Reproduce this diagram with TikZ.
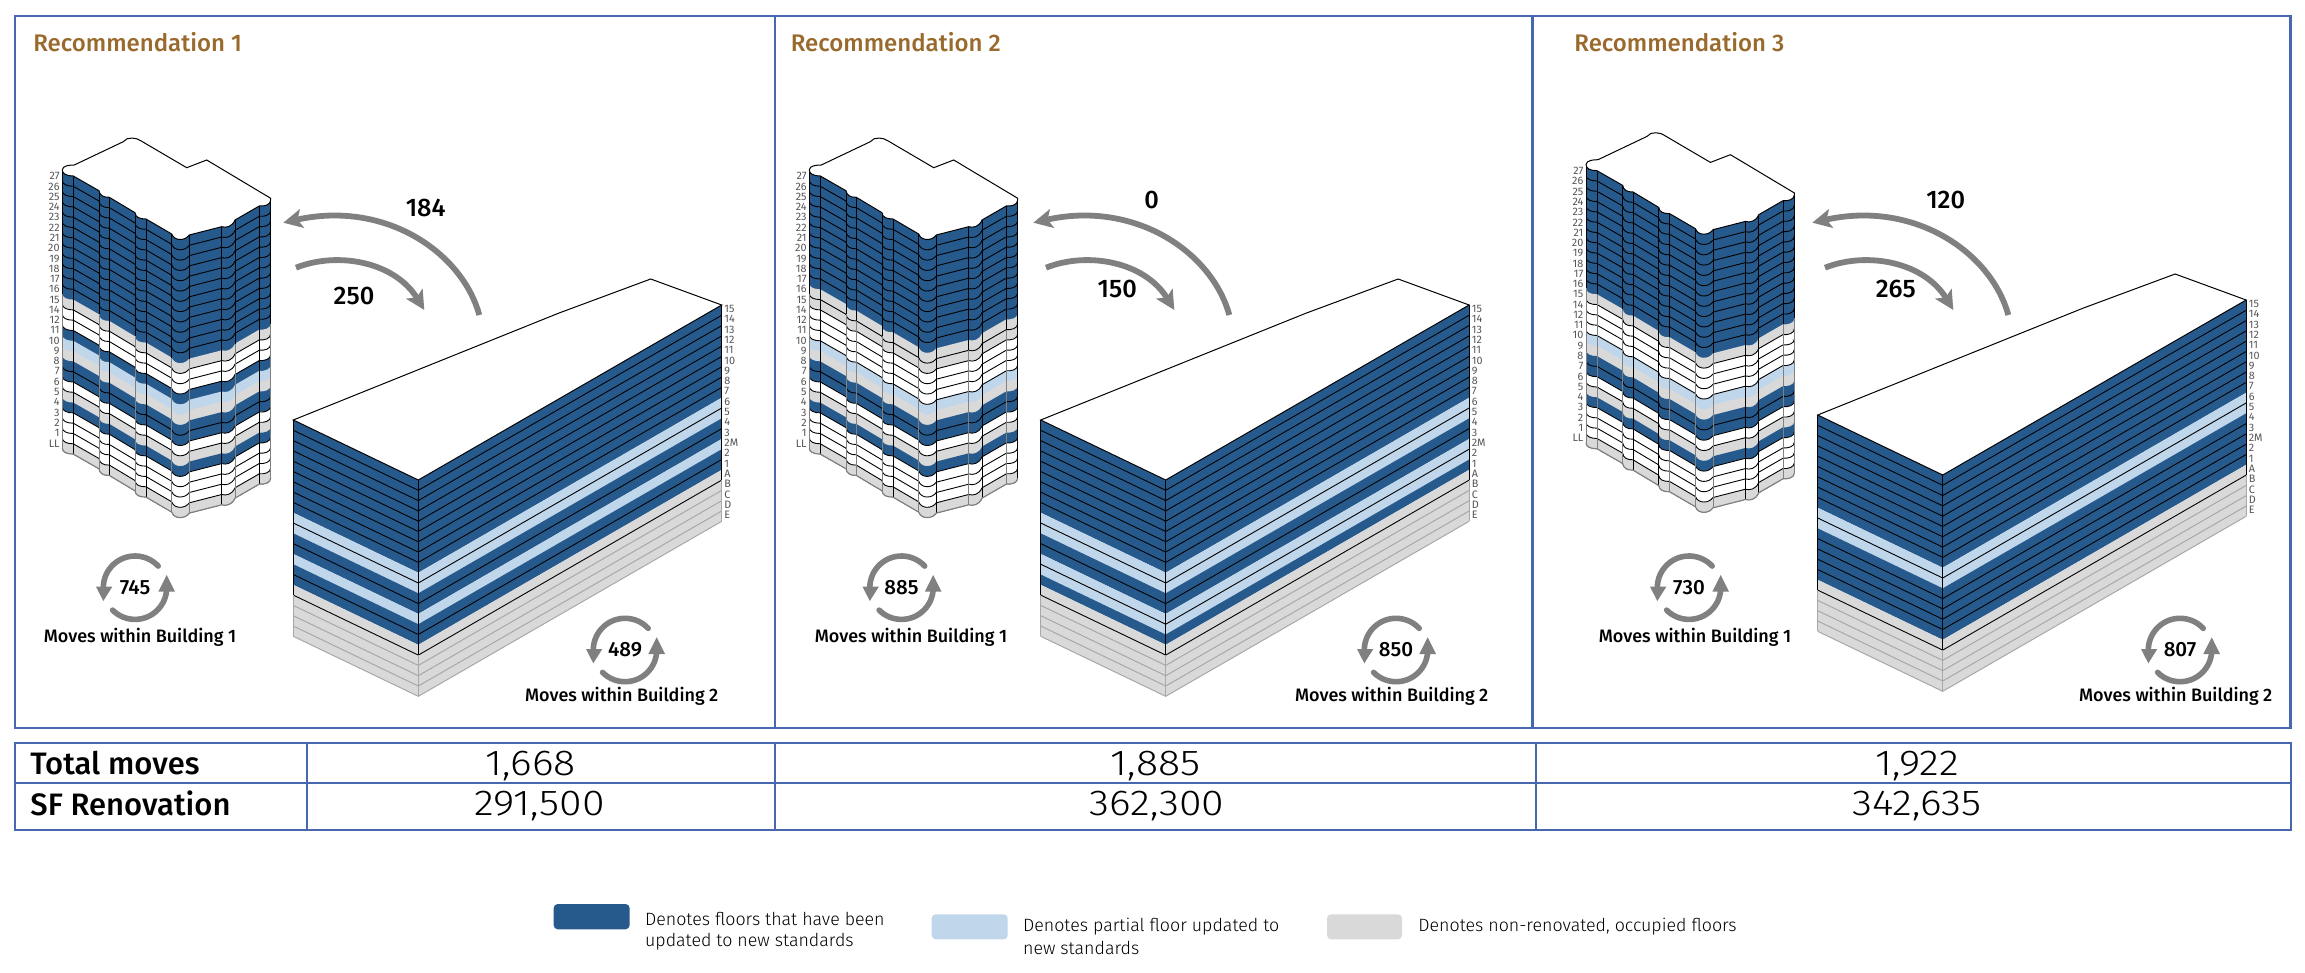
\documentclass[tikz,border=0pt]{standalone}
\usepackage{fontspec}
\setmainfont{Fira Sans}
\newfontfamily\medf{Fira Sans Medium}
\newfontfamily\lightf{Fira Sans Light}
\newfontfamily\valf[FakeStretch=1.14]{Fira Sans Light}
\usetikzlibrary{arrows.meta}
\definecolor{cD}{HTML}{26598C}
\definecolor{cL}{HTML}{BFD6EB}
\definecolor{cG}{HTML}{D9D9D9}
\definecolor{cW}{HTML}{FFFFFF}
\definecolor{vk}{HTML}{000000}
\definecolor{vg}{HTML}{808080}
\definecolor{frame}{HTML}{4767AE}
\definecolor{title}{HTML}{9A6A2C}
\definecolor{arrowg}{HTML}{808080}
\definecolor{lblg}{HTML}{555555}
\definecolor{gline}{HTML}{A8A8A8}
\tikzset{
 floorln/.style={line width=0.45pt,black},
 frameln/.style={draw=frame,line width=1.1pt},
 tableln/.style={draw=frame,line width=1pt},
 flow/.style={draw=arrowg,line width=2.9pt,-{Stealth[length=9.5pt,width=9.5pt,inset=2.2pt]}},
 circarc/.style={draw=arrowg,line width=2.8pt,line cap=round},
 numlbl/.style={font=\medf\fontsize{12.7}{14}\selectfont,inner sep=0pt},
 circnum/.style={font=\medf\fontsize{10.3}{12}\selectfont,inner sep=0pt},
 movelbl/.style={font=\medf\fontsize{9}{12}\selectfont,inner sep=0pt},
 florlbl/.style={font=\fontsize{5.4}{6}\selectfont,text=lblg,inner sep=0pt},
 titlelbl/.style={font=\medf\fontsize{12}{14}\selectfont,text=title,inner sep=0pt,anchor=west},
 rowlbl/.style={font=\medf\fontsize{15.5}{18}\selectfont,inner sep=0pt,anchor=west},
 vallbl/.style={font=\valf\fontsize{18}{20}\selectfont,inner sep=0pt},
 leglbl/.style={font=\lightf\fontsize{8.9}{11}\selectfont,inner sep=0pt,anchor=west},
}
\def\wh{cW}
\newcommand\tprof{(62.3,170) .. controls (62.3,174) and (67,176) .. (73.3,176)
 -- (99,190.7) .. controls (99.5,195) and (103,197.5) .. (109.3,197.3)
 -- (135,212.7) .. controls (135.5,217) and (139,219) .. (146,219)
 -- (171.7,234) .. controls (173,238) and (177,239.5) .. (180,239.5)
 .. controls (184,239.5) and (187,238) .. (189.3,235)
 -- (221.7,226.7) .. controls (226,228) and (232,227) .. (235,220)
 -- (259.3,206) .. controls (264,206.5) and (270.7,205) .. (270.7,200)}
% dx, dy, floors (27), vertical list
\newcommand\tower[4]{%
\begin{scope}[shift={(#1,#2)}]
 \begin{scope}
  \clip[shift={(0,278.1)}] \tprof -- (270.7,-400) -- (62.3,-400) -- cycle;
  \foreach[count=\k from 0] \cl in {#3} {
   \fill[\cl,shift={(0,\k*10.3)}] \tprof -- (270.7,900) -- (62.3,900) -- cycle;
  }
  \gdef\pv{none}
  \foreach[count=\k from 0] \cl in {#3} {
   \edef\cc{\cl}
   \ifx\cc\pv \draw[floorln,shift={(0,\k*10.3)}] \tprof;
   \else\ifx\cc\wh \draw[floorln,shift={(0,\k*10.3)}] \tprof;
   \else\ifx\pv\wh \draw[floorln,shift={(0,\k*10.3)}] \tprof;
   \fi\fi\fi
   \xdef\pv{\cl}
  }
 \end{scope}
 \foreach \x/\y/\vc in {#4} {
  \draw[line width=0.5pt,vk] (\x,\y) -- (\x,\y+123.6);
  \draw[line width=0.5pt,\vc] (\x,\y+123.6) -- (\x,\y+278.1);
 }
 \draw[line width=0.6pt,vg,shift={(0,278.1)}] \tprof;
 \filldraw[fill=white,draw=black,line width=0.5pt] \tprof
   .. controls (271.5,199) and (271,198.5) .. (270.7,198.3) -- (206.7,160) -- (186.7,167.7) -- (140.7,140.7)
   .. controls (137.5,138) and (127,136) .. (123.3,141.7) -- (74.3,165)
   .. controls (70,165) and (62.3,165.5) .. (62.3,170) -- cycle;
 \foreach \t [count=\k from 0] in {27,26,25,24,23,22,21,20,19,18,17,16,15,14,12,11,10,9,8,7,6,5,4,3,2,1,LL}
   \node[florlbl,anchor=east] (tl\k) at (60,176.3+\k*10.27) {\t};
\end{scope}}
% dx, dy, floors (21)
\newcommand\bigb[3]{%
\begin{scope}[shift={(#1,#2)}]
 \foreach[count=\k from 0] \cl in {#3} {
  \fill[\cl] (293.3,420+\k*10.3) -- (418.3,480+\k*10.3) -- (721.7,305+\k*10.3) -- (721.7,315.3+\k*10.3) -- (418.3,490.3+\k*10.3) -- (293.3,430.3+\k*10.3) -- cycle;
 }
 \gdef\pv{none}
 \foreach[count=\k from 0] \cl in {#3} {
  \edef\cc{\cl}
  \ifx\cc\pv
   \ifnum\k>17\relax
    \draw[line width=0.5pt,gline] (293.3,420+\k*10.3) -- (418.3,480+\k*10.3) -- (721.7,305+\k*10.3);
   \else
    \draw[floorln] (293.3,420+\k*10.3) -- (418.3,480+\k*10.3) -- (721.7,305+\k*10.3);
   \fi
  \fi
  \xdef\pv{\cl}
 }
 \foreach \xa/\ya in {293.3/420,418.3/480,721.7/305} {
  \draw[line width=0.5pt,vk] (\xa,\ya) -- (\xa,\ya+175.1);
  \draw[line width=0.5pt,gline] (\xa,\ya+175.1) -- (\xa,\ya+216.3);
 }
 \draw[line width=0.5pt,gline] (293.3,636.3) -- (418.3,696.3) -- (721.7,521.3);
 \filldraw[fill=white,draw=black,line width=0.5pt] (293.3,420) -- (558.3,313.3) -- (650.7,279) -- (721.7,305) -- (418.3,480) -- cycle;
 \foreach \t [count=\k from 0] in {15,14,13,12,11,10,9,8,7,6,5,4,3,2M,2,1,A,B,C,D,E}
   \node[florlbl,anchor=west] (bl\k) at (724,309+\k*10.3) {\t};
\end{scope}}
\newcommand\flows[1]{%
\begin{scope}[shift={(#1,0)}]
 \draw[flow] (479.3,315) .. controls (462,252) and (385,200) .. (283.3,222.7);
 \draw[flow] (296,267.7) .. controls (338,251) and (395,262) .. (424.3,310);
\end{scope}}
% cx, cy, text
\newcommand\recyc[3]{%
\begin{scope}[shift={(#1,#2)}]
 \draw[circarc] (-43:31.7) arc (-43:-178:31.7);
 \draw[circarc] (135:31.7) arc (135:2:31.7);
 \fill[arrowg] (-39,-1) -- (-22.7,-1) -- (-31.7,13.3) -- cycle;
 \fill[arrowg] (31.7,-12.7) -- (40,4) -- (23.3,4) -- cycle;
 \node[circnum] (cn#3) at (0,0) {#3};
\end{scope}}
\begin{document}
\begin{tikzpicture}[x=0.5pt,y=-0.5pt]
\useasboundingbox (0,0) rectangle (2305,973);
\fill[white] (0,0) rectangle (2305,973);
% towers
\tower{0}{0}{cD,cD,cD,cD,cD,cD,cD,cD,cD,cD,cD,cD,cG,cW,cW,cD,cL,cG,cD,cD,cW,cG,cD,cW,cW,cW,cG}
 {62.3/170/vg,73.3/176/vk,99/190.7/vg,109.3/197.3/vk,135/212.7/vg,146/219/vk,171.7/234/vg,189.3/235/vg,221.7/226.7/vk,235/220/vg,259.3/206/vk,270.7/200/vg}
\tower{747}{0}{cD,cD,cD,cD,cD,cD,cD,cD,cD,cD,cD,cG,cG,cW,cW,cW,cL,cG,cD,cD,cW,cG,cD,cW,cW,cW,cG}
 {62.3/170/vg,73.3/176/vk,99/190.7/vg,109.3/197.3/vg,135/212.7/vg,146/219/vk,171.7/234/vg,189.3/235/vk,221.7/226.7/vg,235/220/vk,259.3/206/vg,270.7/200/vk}
\tower{1523.7}{-5.3}{cD,cD,cD,cD,cD,cD,cD,cD,cD,cD,cD,cD,cG,cW,cW,cW,cL,cG,cD,cD,cW,cG,cD,cW,cW,cW,cG}
 {62.3/170/vg,73.3/176/vg,99/190.7/vg,109.3/197.3/vk,135/212.7/vk,146/219/vg,171.7/234/vg,189.3/235/vg,221.7/226.7/vk,235/220/vk,259.3/206/vg,270.7/200/vg}
% large buildings
\bigb{0}{0}{cD,cD,cD,cD,cD,cD,cD,cD,cD,cL,cL,cD,cD,cL,cD,cD,cG,cG,cG,cG,cG}
\bigb{747.4}{0}{cD,cD,cD,cD,cD,cD,cD,cD,cD,cL,cL,cD,cD,cL,cL,cD,cG,cG,cG,cG,cG}
\bigb{1524.4}{-5}{cD,cD,cD,cD,cD,cD,cD,cD,cD,cL,cL,cD,cD,cD,cD,cD,cG,cG,cG,cG,cG}
% flows
\flows{0}\flows{750}\flows{1529}
\node[numlbl] (n184) at (425.7,208.3) {184};
\node[numlbl] (n250) at (354,296) {250};
\node[numlbl] (n0) at (1151.7,200) {0};
\node[numlbl] (n150) at (1117.3,289) {150};
\node[numlbl] (n120) at (1945.7,200) {120};
\node[numlbl] (n265) at (1895.7,289) {265};
% circular arrows
\recyc{135}{587.7}{745}
\recyc{901.5}{587.7}{885}
\recyc{1689}{587.7}{730}
\recyc{625}{650}{489}
\recyc{1396}{650}{850}
\recyc{2180}{650}{807}
\node[movelbl] (m1) at (140,637.7) {Moves within Building 1};
\node[movelbl] (m2) at (621.7,696) {Moves within Building 2};
\node[movelbl] (m3) at (911,637.7) {Moves within Building 1};
\node[movelbl] (m4) at (1391.7,696) {Moves within Building 2};
\node[movelbl] (m5) at (1695,637.7) {Moves within Building 1};
\node[movelbl] (m6) at (2175.7,696) {Moves within Building 2};
% frames
\draw[frameln] (15,16) rectangle (2290.5,727.7);
\draw[tableln] (774.6,16) -- (774.6,727.7);
\draw[frameln,line width=1.7pt] (1532.4,16) -- (1532.4,727.7);
\node[titlelbl] (t1) at (33,42.3) {Recommendation 1};
\node[titlelbl] (t2) at (790.5,42.3) {Recommendation 2};
\node[titlelbl] (t3) at (1574,42.3) {Recommendation 3};
% table
\draw[tableln] (15,743.3) rectangle (2290.5,830);
\draw[tableln] (15,782.7) -- (2290.5,782.7);
\foreach \x in {306.7,774.6,1536} \draw[tableln] (\x,743.3) -- (\x,830);
\node[rowlbl] (r1) at (30,763) {Total moves};
\node[rowlbl] (r2) at (30,803) {SF Renovation};
\node[vallbl] (v1) at (530.7,766) {1,668};
\node[vallbl] (v2) at (1155.6,766) {1,885};
\node[vallbl] (v3) at (1917,766) {1,922};
\node[vallbl] (v4) at (539.5,806) {291,500};
\node[vallbl] (v5) at (1157,806) {362,300};
\node[vallbl] (v6) at (1917,806) {342,635};
% legend
\fill[cD,rounded corners=2pt] (553.7,904) rectangle (629.6,929.3);
\fill[cL,rounded corners=2pt] (931.7,914.3) rectangle (1007.7,939.3);
\fill[cG,rounded corners=2pt] (1327,914.3) rectangle (1402,939.3);
\node[leglbl] (l1a) at (644.7,919.3) {Denotes floors that have been};
\node[leglbl] (l1b) at (644.7,941.7) {updated to new standards};
\node[leglbl] (l2a) at (1022.7,926.7) {Denotes partial floor updated to};
\node[leglbl] (l2b) at (1022.7,948.3) {new standards};
\node[leglbl] (l3) at (1418,926.7) {Denotes non-renovated, occupied floors};
\end{tikzpicture}
\end{document}
